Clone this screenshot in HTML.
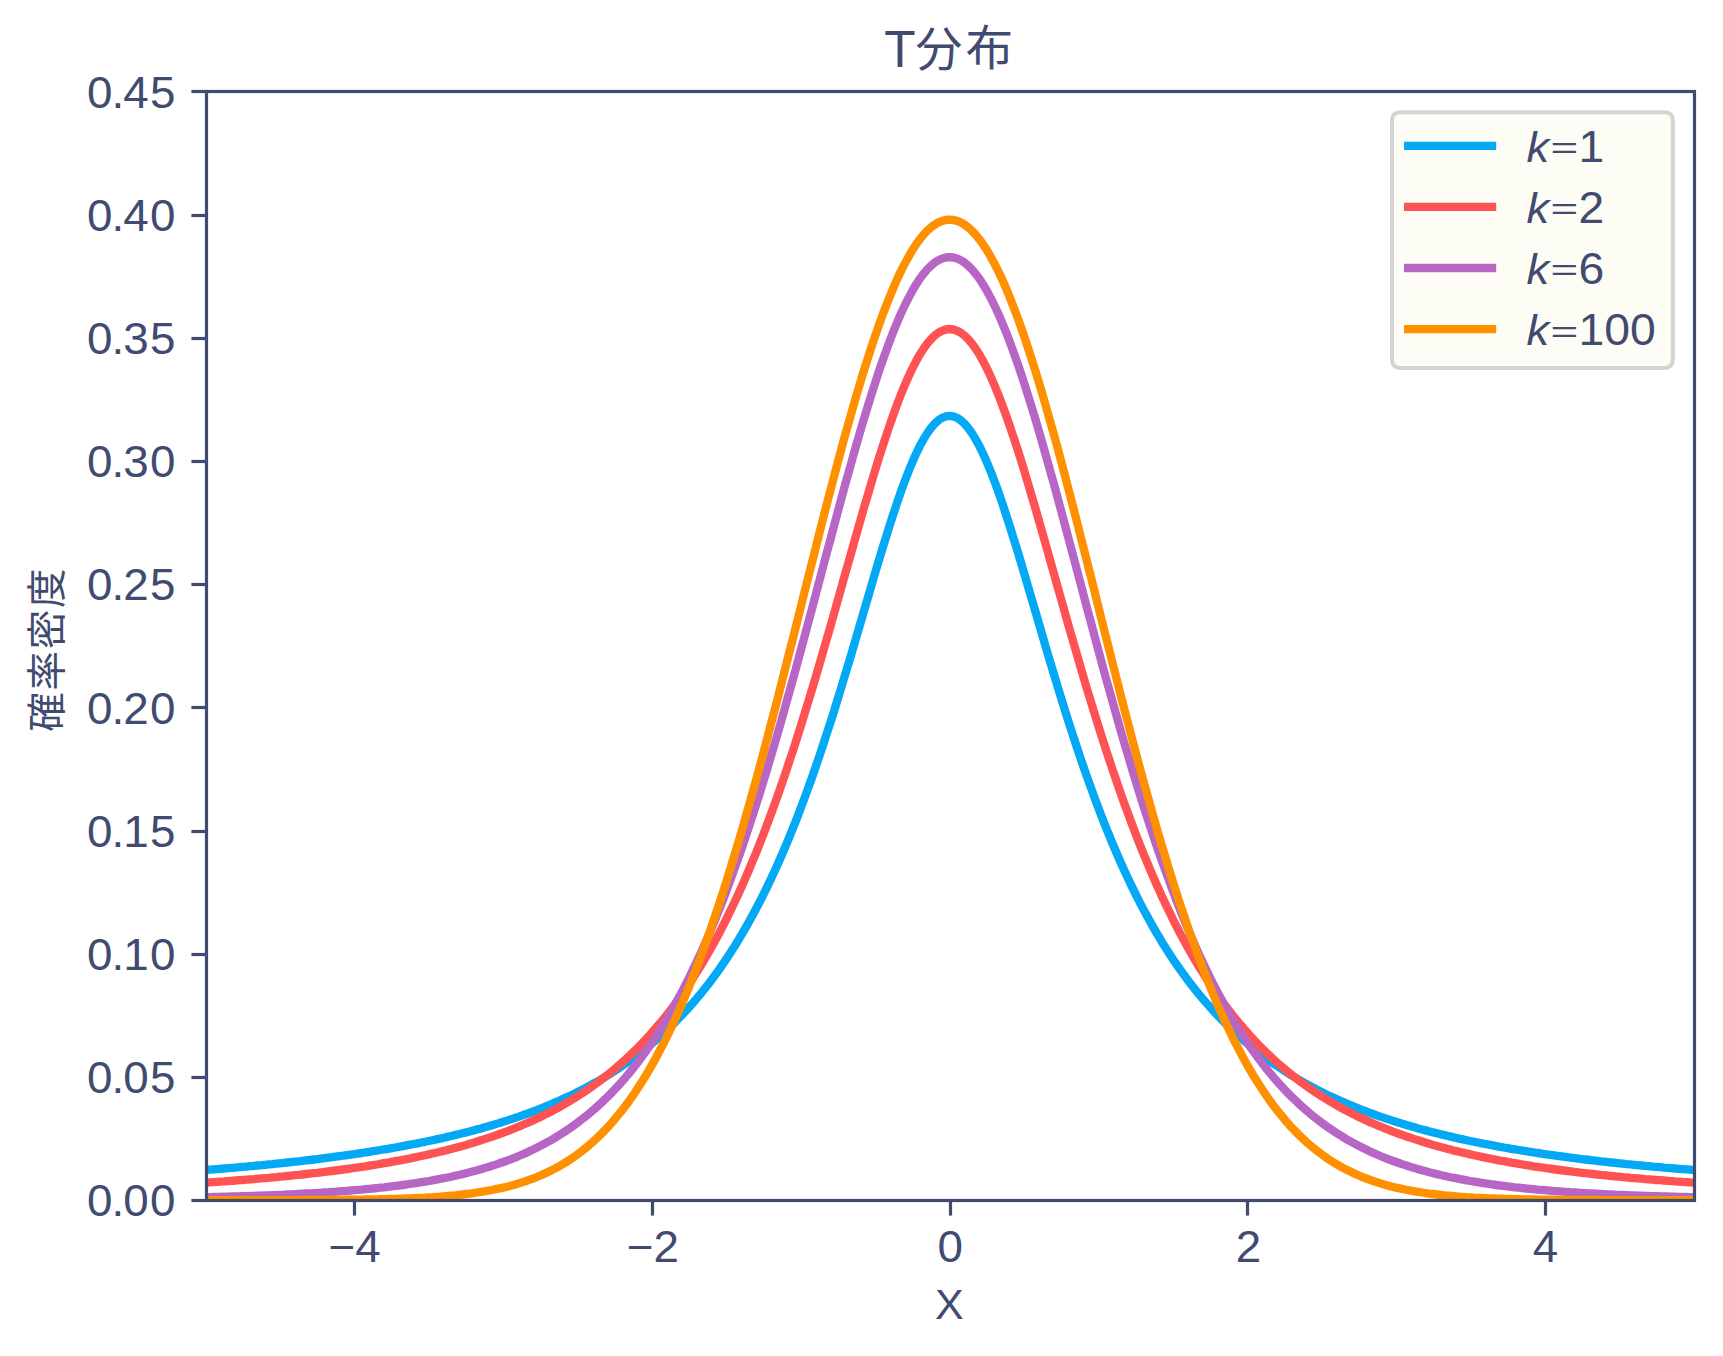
<!DOCTYPE html>
<html lang="ja"><head><meta charset="utf-8"><title>T分布</title>
<style>
html,body{margin:0;padding:0;background:#fff;}
body{width:1723px;height:1356px;overflow:hidden;}
svg{display:block;}
text{font-family:"Liberation Sans", "Noto Sans CJK JP", sans-serif;fill:#414b70;}
.it{font-style:italic;}
</style></head><body>
<svg width="1723" height="1356" viewBox="0 0 1723 1356">
<rect width="1723" height="1356" fill="#fff"/>
<defs><clipPath id="ax"><rect x="205.6" y="91.4" width="1488.0" height="1108.8"/></clipPath></defs>
<g clip-path="url(#ax)" fill="none" stroke-width="8.33" stroke-linejoin="round" stroke-linecap="square">
<path d="M205.6,1170.0 L209.3,1169.7 L213.0,1169.4 L216.8,1169.1 L220.5,1168.8 L224.2,1168.5 L227.9,1168.2 L231.6,1167.9 L235.4,1167.6 L239.1,1167.2 L242.8,1166.9 L246.5,1166.6 L250.2,1166.2 L254.0,1165.9 L257.7,1165.5 L261.4,1165.2 L265.1,1164.8 L268.8,1164.4 L272.6,1164.1 L276.3,1163.7 L280.0,1163.3 L283.7,1162.9 L287.4,1162.5 L291.2,1162.1 L294.9,1161.7 L298.6,1161.3 L302.3,1160.8 L306.0,1160.4 L309.8,1160.0 L313.5,1159.5 L317.2,1159.1 L320.9,1158.6 L324.6,1158.1 L328.4,1157.6 L332.1,1157.2 L335.8,1156.7 L339.5,1156.2 L343.2,1155.7 L347.0,1155.1 L350.7,1154.6 L354.4,1154.1 L358.1,1153.5 L361.8,1153.0 L365.6,1152.4 L369.3,1151.8 L373.0,1151.2 L376.7,1150.6 L380.4,1150.0 L384.2,1149.4 L387.9,1148.8 L391.6,1148.1 L395.3,1147.5 L399.0,1146.8 L402.8,1146.1 L406.5,1145.4 L410.2,1144.7 L413.9,1144.0 L417.6,1143.3 L421.4,1142.5 L425.1,1141.8 L428.8,1141.0 L432.5,1140.2 L436.2,1139.4 L440.0,1138.6 L443.7,1137.8 L447.4,1136.9 L451.1,1136.0 L454.8,1135.1 L458.6,1134.2 L462.3,1133.3 L466.0,1132.4 L469.7,1131.4 L473.4,1130.4 L477.2,1129.4 L480.9,1128.4 L484.6,1127.3 L488.3,1126.3 L492.0,1125.2 L495.8,1124.1 L499.5,1122.9 L503.2,1121.8 L506.9,1120.6 L510.6,1119.4 L514.4,1118.1 L518.1,1116.9 L521.8,1115.6 L525.5,1114.2 L529.2,1112.9 L533.0,1111.5 L536.7,1110.1 L540.4,1108.6 L544.1,1107.1 L547.8,1105.6 L551.6,1104.0 L555.3,1102.4 L559.0,1100.8 L562.7,1099.1 L566.4,1097.4 L570.2,1095.7 L573.9,1093.9 L577.6,1092.0 L581.3,1090.1 L585.0,1088.2 L588.8,1086.2 L592.5,1084.2 L596.2,1082.1 L599.9,1080.0 L603.6,1077.8 L607.4,1075.5 L611.1,1073.2 L614.8,1070.8 L618.5,1068.4 L622.2,1065.9 L626.0,1063.3 L629.7,1060.7 L633.4,1058.0 L637.1,1055.2 L640.8,1052.4 L644.6,1049.4 L648.3,1046.4 L652.0,1043.3 L655.7,1040.2 L659.4,1036.9 L663.2,1033.5 L666.9,1030.1 L670.6,1026.5 L674.3,1022.9 L678.0,1019.1 L681.8,1015.2 L685.5,1011.2 L689.2,1007.1 L692.9,1002.9 L696.6,998.6 L700.4,994.1 L704.1,989.5 L707.8,984.8 L711.5,979.9 L715.2,974.9 L719.0,969.7 L722.7,964.4 L726.4,958.9 L730.1,953.2 L733.8,947.4 L737.6,941.4 L741.3,935.2 L745.0,928.9 L748.7,922.3 L752.4,915.6 L756.2,908.6 L759.9,901.5 L763.6,894.1 L767.3,886.6 L771.0,878.8 L774.8,870.7 L778.5,862.5 L782.2,854.0 L785.9,845.3 L789.6,836.4 L793.4,827.2 L797.1,817.7 L800.8,808.0 L804.5,798.1 L808.2,787.9 L812.0,777.5 L815.7,766.9 L819.4,756.0 L823.1,744.9 L826.8,733.5 L830.6,722.0 L834.3,710.2 L838.0,698.2 L841.7,686.1 L845.4,673.8 L849.2,661.4 L852.9,648.8 L856.6,636.2 L860.3,623.5 L864.0,610.8 L867.8,598.0 L871.5,585.4 L875.2,572.7 L878.9,560.3 L882.6,548.0 L886.4,535.9 L890.1,524.1 L893.8,512.6 L897.5,501.5 L901.2,490.8 L905.0,480.6 L908.7,471.0 L912.4,462.0 L916.1,453.7 L919.8,446.1 L923.6,439.2 L927.3,433.1 L931.0,428.0 L934.7,423.6 L938.4,420.3 L942.2,417.8 L945.9,416.4 L949.6,415.9 L953.3,416.4 L957.0,417.8 L960.8,420.3 L964.5,423.6 L968.2,428.0 L971.9,433.1 L975.6,439.2 L979.4,446.1 L983.1,453.7 L986.8,462.0 L990.5,471.0 L994.2,480.6 L998.0,490.8 L1001.7,501.5 L1005.4,512.6 L1009.1,524.1 L1012.8,535.9 L1016.6,548.0 L1020.3,560.3 L1024.0,572.7 L1027.7,585.4 L1031.4,598.0 L1035.2,610.8 L1038.9,623.5 L1042.6,636.2 L1046.3,648.8 L1050.0,661.4 L1053.8,673.8 L1057.5,686.1 L1061.2,698.2 L1064.9,710.2 L1068.6,722.0 L1072.4,733.5 L1076.1,744.9 L1079.8,756.0 L1083.5,766.9 L1087.2,777.5 L1091.0,787.9 L1094.7,798.1 L1098.4,808.0 L1102.1,817.7 L1105.8,827.2 L1109.6,836.4 L1113.3,845.3 L1117.0,854.0 L1120.7,862.5 L1124.4,870.7 L1128.2,878.8 L1131.9,886.6 L1135.6,894.1 L1139.3,901.5 L1143.0,908.6 L1146.8,915.6 L1150.5,922.3 L1154.2,928.9 L1157.9,935.2 L1161.6,941.4 L1165.4,947.4 L1169.1,953.2 L1172.8,958.9 L1176.5,964.4 L1180.2,969.7 L1184.0,974.9 L1187.7,979.9 L1191.4,984.8 L1195.1,989.5 L1198.8,994.1 L1202.6,998.6 L1206.3,1002.9 L1210.0,1007.1 L1213.7,1011.2 L1217.4,1015.2 L1221.2,1019.1 L1224.9,1022.9 L1228.6,1026.5 L1232.3,1030.1 L1236.0,1033.5 L1239.8,1036.9 L1243.5,1040.2 L1247.2,1043.3 L1250.9,1046.4 L1254.6,1049.4 L1258.4,1052.4 L1262.1,1055.2 L1265.8,1058.0 L1269.5,1060.7 L1273.2,1063.3 L1277.0,1065.9 L1280.7,1068.4 L1284.4,1070.8 L1288.1,1073.2 L1291.8,1075.5 L1295.6,1077.8 L1299.3,1080.0 L1303.0,1082.1 L1306.7,1084.2 L1310.4,1086.2 L1314.2,1088.2 L1317.9,1090.1 L1321.6,1092.0 L1325.3,1093.9 L1329.0,1095.7 L1332.8,1097.4 L1336.5,1099.1 L1340.2,1100.8 L1343.9,1102.4 L1347.6,1104.0 L1351.4,1105.6 L1355.1,1107.1 L1358.8,1108.6 L1362.5,1110.1 L1366.2,1111.5 L1370.0,1112.9 L1373.7,1114.2 L1377.4,1115.6 L1381.1,1116.9 L1384.8,1118.1 L1388.6,1119.4 L1392.3,1120.6 L1396.0,1121.8 L1399.7,1122.9 L1403.4,1124.1 L1407.2,1125.2 L1410.9,1126.3 L1414.6,1127.3 L1418.3,1128.4 L1422.0,1129.4 L1425.8,1130.4 L1429.5,1131.4 L1433.2,1132.4 L1436.9,1133.3 L1440.6,1134.2 L1444.4,1135.1 L1448.1,1136.0 L1451.8,1136.9 L1455.5,1137.8 L1459.2,1138.6 L1463.0,1139.4 L1466.7,1140.2 L1470.4,1141.0 L1474.1,1141.8 L1477.8,1142.5 L1481.6,1143.3 L1485.3,1144.0 L1489.0,1144.7 L1492.7,1145.4 L1496.4,1146.1 L1500.2,1146.8 L1503.9,1147.5 L1507.6,1148.1 L1511.3,1148.8 L1515.0,1149.4 L1518.8,1150.0 L1522.5,1150.6 L1526.2,1151.2 L1529.9,1151.8 L1533.6,1152.4 L1537.4,1153.0 L1541.1,1153.5 L1544.8,1154.1 L1548.5,1154.6 L1552.2,1155.1 L1556.0,1155.7 L1559.7,1156.2 L1563.4,1156.7 L1567.1,1157.2 L1570.8,1157.6 L1574.6,1158.1 L1578.3,1158.6 L1582.0,1159.1 L1585.7,1159.5 L1589.4,1160.0 L1593.2,1160.4 L1596.9,1160.8 L1600.6,1161.3 L1604.3,1161.7 L1608.0,1162.1 L1611.8,1162.5 L1615.5,1162.9 L1619.2,1163.3 L1622.9,1163.7 L1626.6,1164.1 L1630.4,1164.4 L1634.1,1164.8 L1637.8,1165.2 L1641.5,1165.5 L1645.2,1165.9 L1649.0,1166.2 L1652.7,1166.6 L1656.4,1166.9 L1660.1,1167.2 L1663.8,1167.6 L1667.6,1167.9 L1671.3,1168.2 L1675.0,1168.5 L1678.7,1168.8 L1682.4,1169.1 L1686.2,1169.4 L1689.9,1169.7 L1693.6,1170.0" stroke="#03a9f4"/>
<path d="M205.6,1182.6 L209.3,1182.4 L213.0,1182.1 L216.8,1181.9 L220.5,1181.6 L224.2,1181.4 L227.9,1181.1 L231.6,1180.8 L235.4,1180.5 L239.1,1180.2 L242.8,1180.0 L246.5,1179.7 L250.2,1179.4 L254.0,1179.1 L257.7,1178.7 L261.4,1178.4 L265.1,1178.1 L268.8,1177.8 L272.6,1177.4 L276.3,1177.1 L280.0,1176.7 L283.7,1176.4 L287.4,1176.0 L291.2,1175.6 L294.9,1175.2 L298.6,1174.9 L302.3,1174.5 L306.0,1174.0 L309.8,1173.6 L313.5,1173.2 L317.2,1172.8 L320.9,1172.3 L324.6,1171.9 L328.4,1171.4 L332.1,1171.0 L335.8,1170.5 L339.5,1170.0 L343.2,1169.5 L347.0,1169.0 L350.7,1168.5 L354.4,1167.9 L358.1,1167.4 L361.8,1166.8 L365.6,1166.3 L369.3,1165.7 L373.0,1165.1 L376.7,1164.5 L380.4,1163.9 L384.2,1163.2 L387.9,1162.6 L391.6,1161.9 L395.3,1161.2 L399.0,1160.6 L402.8,1159.8 L406.5,1159.1 L410.2,1158.4 L413.9,1157.6 L417.6,1156.8 L421.4,1156.0 L425.1,1155.2 L428.8,1154.4 L432.5,1153.5 L436.2,1152.7 L440.0,1151.8 L443.7,1150.9 L447.4,1149.9 L451.1,1149.0 L454.8,1148.0 L458.6,1147.0 L462.3,1145.9 L466.0,1144.9 L469.7,1143.8 L473.4,1142.7 L477.2,1141.5 L480.9,1140.3 L484.6,1139.1 L488.3,1137.9 L492.0,1136.7 L495.8,1135.4 L499.5,1134.0 L503.2,1132.7 L506.9,1131.3 L510.6,1129.8 L514.4,1128.4 L518.1,1126.8 L521.8,1125.3 L525.5,1123.7 L529.2,1122.1 L533.0,1120.4 L536.7,1118.6 L540.4,1116.9 L544.1,1115.1 L547.8,1113.2 L551.6,1111.3 L555.3,1109.3 L559.0,1107.3 L562.7,1105.2 L566.4,1103.0 L570.2,1100.8 L573.9,1098.5 L577.6,1096.2 L581.3,1093.8 L585.0,1091.4 L588.8,1088.8 L592.5,1086.2 L596.2,1083.5 L599.9,1080.8 L603.6,1077.9 L607.4,1075.0 L611.1,1072.0 L614.8,1068.9 L618.5,1065.7 L622.2,1062.5 L626.0,1059.1 L629.7,1055.6 L633.4,1052.0 L637.1,1048.4 L640.8,1044.6 L644.6,1040.7 L648.3,1036.7 L652.0,1032.5 L655.7,1028.3 L659.4,1023.9 L663.2,1019.4 L666.9,1014.8 L670.6,1010.0 L674.3,1005.1 L678.0,1000.0 L681.8,994.8 L685.5,989.4 L689.2,983.9 L692.9,978.2 L696.6,972.3 L700.4,966.3 L704.1,960.1 L707.8,953.7 L711.5,947.2 L715.2,940.4 L719.0,933.5 L722.7,926.3 L726.4,919.0 L730.1,911.4 L733.8,903.7 L737.6,895.7 L741.3,887.5 L745.0,879.1 L748.7,870.5 L752.4,861.7 L756.2,852.6 L759.9,843.3 L763.6,833.8 L767.3,824.0 L771.0,814.0 L774.8,803.8 L778.5,793.3 L782.2,782.7 L785.9,771.8 L789.6,760.6 L793.4,749.3 L797.1,737.8 L800.8,726.0 L804.5,714.1 L808.2,701.9 L812.0,689.6 L815.7,677.1 L819.4,664.5 L823.1,651.7 L826.8,638.8 L830.6,625.8 L834.3,612.7 L838.0,599.5 L841.7,586.3 L845.4,573.1 L849.2,559.9 L852.9,546.7 L856.6,533.6 L860.3,520.6 L864.0,507.7 L867.8,495.0 L871.5,482.4 L875.2,470.1 L878.9,458.1 L882.6,446.4 L886.4,435.0 L890.1,424.0 L893.8,413.5 L897.5,403.4 L901.2,393.8 L905.0,384.7 L908.7,376.2 L912.4,368.3 L916.1,361.1 L919.8,354.5 L923.6,348.7 L927.3,343.5 L931.0,339.2 L934.7,335.5 L938.4,332.7 L942.2,330.7 L945.9,329.5 L949.6,329.0 L953.3,329.5 L957.0,330.7 L960.8,332.7 L964.5,335.5 L968.2,339.2 L971.9,343.5 L975.6,348.7 L979.4,354.5 L983.1,361.1 L986.8,368.3 L990.5,376.2 L994.2,384.7 L998.0,393.8 L1001.7,403.4 L1005.4,413.5 L1009.1,424.0 L1012.8,435.0 L1016.6,446.4 L1020.3,458.1 L1024.0,470.1 L1027.7,482.4 L1031.4,495.0 L1035.2,507.7 L1038.9,520.6 L1042.6,533.6 L1046.3,546.7 L1050.0,559.9 L1053.8,573.1 L1057.5,586.3 L1061.2,599.5 L1064.9,612.7 L1068.6,625.8 L1072.4,638.8 L1076.1,651.7 L1079.8,664.5 L1083.5,677.1 L1087.2,689.6 L1091.0,701.9 L1094.7,714.1 L1098.4,726.0 L1102.1,737.8 L1105.8,749.3 L1109.6,760.6 L1113.3,771.8 L1117.0,782.7 L1120.7,793.3 L1124.4,803.8 L1128.2,814.0 L1131.9,824.0 L1135.6,833.8 L1139.3,843.3 L1143.0,852.6 L1146.8,861.7 L1150.5,870.5 L1154.2,879.1 L1157.9,887.5 L1161.6,895.7 L1165.4,903.7 L1169.1,911.4 L1172.8,919.0 L1176.5,926.3 L1180.2,933.5 L1184.0,940.4 L1187.7,947.2 L1191.4,953.7 L1195.1,960.1 L1198.8,966.3 L1202.6,972.3 L1206.3,978.2 L1210.0,983.9 L1213.7,989.4 L1217.4,994.8 L1221.2,1000.0 L1224.9,1005.1 L1228.6,1010.0 L1232.3,1014.8 L1236.0,1019.4 L1239.8,1023.9 L1243.5,1028.3 L1247.2,1032.5 L1250.9,1036.7 L1254.6,1040.7 L1258.4,1044.6 L1262.1,1048.4 L1265.8,1052.0 L1269.5,1055.6 L1273.2,1059.1 L1277.0,1062.5 L1280.7,1065.7 L1284.4,1068.9 L1288.1,1072.0 L1291.8,1075.0 L1295.6,1077.9 L1299.3,1080.8 L1303.0,1083.5 L1306.7,1086.2 L1310.4,1088.8 L1314.2,1091.4 L1317.9,1093.8 L1321.6,1096.2 L1325.3,1098.5 L1329.0,1100.8 L1332.8,1103.0 L1336.5,1105.2 L1340.2,1107.3 L1343.9,1109.3 L1347.6,1111.3 L1351.4,1113.2 L1355.1,1115.1 L1358.8,1116.9 L1362.5,1118.6 L1366.2,1120.4 L1370.0,1122.1 L1373.7,1123.7 L1377.4,1125.3 L1381.1,1126.8 L1384.8,1128.4 L1388.6,1129.8 L1392.3,1131.3 L1396.0,1132.7 L1399.7,1134.0 L1403.4,1135.4 L1407.2,1136.7 L1410.9,1137.9 L1414.6,1139.1 L1418.3,1140.3 L1422.0,1141.5 L1425.8,1142.7 L1429.5,1143.8 L1433.2,1144.9 L1436.9,1145.9 L1440.6,1147.0 L1444.4,1148.0 L1448.1,1149.0 L1451.8,1149.9 L1455.5,1150.9 L1459.2,1151.8 L1463.0,1152.7 L1466.7,1153.5 L1470.4,1154.4 L1474.1,1155.2 L1477.8,1156.0 L1481.6,1156.8 L1485.3,1157.6 L1489.0,1158.4 L1492.7,1159.1 L1496.4,1159.8 L1500.2,1160.6 L1503.9,1161.2 L1507.6,1161.9 L1511.3,1162.6 L1515.0,1163.2 L1518.8,1163.9 L1522.5,1164.5 L1526.2,1165.1 L1529.9,1165.7 L1533.6,1166.3 L1537.4,1166.8 L1541.1,1167.4 L1544.8,1167.9 L1548.5,1168.5 L1552.2,1169.0 L1556.0,1169.5 L1559.7,1170.0 L1563.4,1170.5 L1567.1,1171.0 L1570.8,1171.4 L1574.6,1171.9 L1578.3,1172.3 L1582.0,1172.8 L1585.7,1173.2 L1589.4,1173.6 L1593.2,1174.0 L1596.9,1174.5 L1600.6,1174.9 L1604.3,1175.2 L1608.0,1175.6 L1611.8,1176.0 L1615.5,1176.4 L1619.2,1176.7 L1622.9,1177.1 L1626.6,1177.4 L1630.4,1177.8 L1634.1,1178.1 L1637.8,1178.4 L1641.5,1178.7 L1645.2,1179.1 L1649.0,1179.4 L1652.7,1179.7 L1656.4,1180.0 L1660.1,1180.2 L1663.8,1180.5 L1667.6,1180.8 L1671.3,1181.1 L1675.0,1181.4 L1678.7,1181.6 L1682.4,1181.9 L1686.2,1182.1 L1689.9,1182.4 L1693.6,1182.6" stroke="#ff5252"/>
<path d="M205.6,1197.2 L209.3,1197.1 L213.0,1197.0 L216.8,1196.9 L220.5,1196.8 L224.2,1196.7 L227.9,1196.6 L231.6,1196.5 L235.4,1196.4 L239.1,1196.3 L242.8,1196.2 L246.5,1196.1 L250.2,1196.0 L254.0,1195.8 L257.7,1195.7 L261.4,1195.6 L265.1,1195.4 L268.8,1195.3 L272.6,1195.1 L276.3,1195.0 L280.0,1194.8 L283.7,1194.7 L287.4,1194.5 L291.2,1194.3 L294.9,1194.1 L298.6,1193.9 L302.3,1193.7 L306.0,1193.5 L309.8,1193.3 L313.5,1193.1 L317.2,1192.9 L320.9,1192.7 L324.6,1192.4 L328.4,1192.2 L332.1,1191.9 L335.8,1191.7 L339.5,1191.4 L343.2,1191.1 L347.0,1190.8 L350.7,1190.5 L354.4,1190.2 L358.1,1189.9 L361.8,1189.6 L365.6,1189.2 L369.3,1188.8 L373.0,1188.5 L376.7,1188.1 L380.4,1187.7 L384.2,1187.3 L387.9,1186.8 L391.6,1186.4 L395.3,1185.9 L399.0,1185.5 L402.8,1185.0 L406.5,1184.5 L410.2,1183.9 L413.9,1183.4 L417.6,1182.8 L421.4,1182.2 L425.1,1181.6 L428.8,1181.0 L432.5,1180.3 L436.2,1179.6 L440.0,1178.9 L443.7,1178.2 L447.4,1177.5 L451.1,1176.7 L454.8,1175.8 L458.6,1175.0 L462.3,1174.1 L466.0,1173.2 L469.7,1172.3 L473.4,1171.3 L477.2,1170.3 L480.9,1169.2 L484.6,1168.1 L488.3,1167.0 L492.0,1165.8 L495.8,1164.6 L499.5,1163.3 L503.2,1162.0 L506.9,1160.7 L510.6,1159.3 L514.4,1157.8 L518.1,1156.3 L521.8,1154.7 L525.5,1153.1 L529.2,1151.4 L533.0,1149.6 L536.7,1147.8 L540.4,1145.9 L544.1,1143.9 L547.8,1141.9 L551.6,1139.8 L555.3,1137.6 L559.0,1135.3 L562.7,1133.0 L566.4,1130.5 L570.2,1128.0 L573.9,1125.4 L577.6,1122.6 L581.3,1119.8 L585.0,1116.9 L588.8,1113.9 L592.5,1110.7 L596.2,1107.5 L599.9,1104.1 L603.6,1100.6 L607.4,1097.0 L611.1,1093.3 L614.8,1089.4 L618.5,1085.4 L622.2,1081.2 L626.0,1076.9 L629.7,1072.5 L633.4,1067.9 L637.1,1063.1 L640.8,1058.2 L644.6,1053.1 L648.3,1047.8 L652.0,1042.4 L655.7,1036.8 L659.4,1031.0 L663.2,1025.0 L666.9,1018.8 L670.6,1012.5 L674.3,1005.9 L678.0,999.1 L681.8,992.1 L685.5,984.9 L689.2,977.5 L692.9,969.9 L696.6,962.0 L700.4,953.9 L704.1,945.6 L707.8,937.1 L711.5,928.3 L715.2,919.3 L719.0,910.0 L722.7,900.6 L726.4,890.8 L730.1,880.9 L733.8,870.7 L737.6,860.2 L741.3,849.6 L745.0,838.6 L748.7,827.5 L752.4,816.1 L756.2,804.5 L759.9,792.7 L763.6,780.7 L767.3,768.5 L771.0,756.0 L774.8,743.4 L778.5,730.6 L782.2,717.6 L785.9,704.4 L789.6,691.1 L793.4,677.7 L797.1,664.1 L800.8,650.4 L804.5,636.6 L808.2,622.7 L812.0,608.8 L815.7,594.8 L819.4,580.8 L823.1,566.8 L826.8,552.8 L830.6,538.8 L834.3,524.9 L838.0,511.0 L841.7,497.3 L845.4,483.7 L849.2,470.3 L852.9,457.0 L856.6,444.0 L860.3,431.1 L864.0,418.6 L867.8,406.3 L871.5,394.3 L875.2,382.7 L878.9,371.4 L882.6,360.6 L886.4,350.1 L890.1,340.1 L893.8,330.6 L897.5,321.6 L901.2,313.0 L905.0,305.0 L908.7,297.6 L912.4,290.7 L916.1,284.5 L919.8,278.8 L923.6,273.8 L927.3,269.4 L931.0,265.7 L934.7,262.6 L938.4,260.2 L942.2,258.5 L945.9,257.5 L949.6,257.1 L953.3,257.5 L957.0,258.5 L960.8,260.2 L964.5,262.6 L968.2,265.7 L971.9,269.4 L975.6,273.8 L979.4,278.8 L983.1,284.5 L986.8,290.7 L990.5,297.6 L994.2,305.0 L998.0,313.0 L1001.7,321.6 L1005.4,330.6 L1009.1,340.1 L1012.8,350.1 L1016.6,360.6 L1020.3,371.4 L1024.0,382.7 L1027.7,394.3 L1031.4,406.3 L1035.2,418.6 L1038.9,431.1 L1042.6,444.0 L1046.3,457.0 L1050.0,470.3 L1053.8,483.7 L1057.5,497.3 L1061.2,511.0 L1064.9,524.9 L1068.6,538.8 L1072.4,552.8 L1076.1,566.8 L1079.8,580.8 L1083.5,594.8 L1087.2,608.8 L1091.0,622.7 L1094.7,636.6 L1098.4,650.4 L1102.1,664.1 L1105.8,677.7 L1109.6,691.1 L1113.3,704.4 L1117.0,717.6 L1120.7,730.6 L1124.4,743.4 L1128.2,756.0 L1131.9,768.5 L1135.6,780.7 L1139.3,792.7 L1143.0,804.5 L1146.8,816.1 L1150.5,827.5 L1154.2,838.6 L1157.9,849.6 L1161.6,860.2 L1165.4,870.7 L1169.1,880.9 L1172.8,890.8 L1176.5,900.6 L1180.2,910.0 L1184.0,919.3 L1187.7,928.3 L1191.4,937.1 L1195.1,945.6 L1198.8,953.9 L1202.6,962.0 L1206.3,969.9 L1210.0,977.5 L1213.7,984.9 L1217.4,992.1 L1221.2,999.1 L1224.9,1005.9 L1228.6,1012.5 L1232.3,1018.8 L1236.0,1025.0 L1239.8,1031.0 L1243.5,1036.8 L1247.2,1042.4 L1250.9,1047.8 L1254.6,1053.1 L1258.4,1058.2 L1262.1,1063.1 L1265.8,1067.9 L1269.5,1072.5 L1273.2,1076.9 L1277.0,1081.2 L1280.7,1085.4 L1284.4,1089.4 L1288.1,1093.3 L1291.8,1097.0 L1295.6,1100.6 L1299.3,1104.1 L1303.0,1107.5 L1306.7,1110.7 L1310.4,1113.9 L1314.2,1116.9 L1317.9,1119.8 L1321.6,1122.6 L1325.3,1125.4 L1329.0,1128.0 L1332.8,1130.5 L1336.5,1133.0 L1340.2,1135.3 L1343.9,1137.6 L1347.6,1139.8 L1351.4,1141.9 L1355.1,1143.9 L1358.8,1145.9 L1362.5,1147.8 L1366.2,1149.6 L1370.0,1151.4 L1373.7,1153.1 L1377.4,1154.7 L1381.1,1156.3 L1384.8,1157.8 L1388.6,1159.3 L1392.3,1160.7 L1396.0,1162.0 L1399.7,1163.3 L1403.4,1164.6 L1407.2,1165.8 L1410.9,1167.0 L1414.6,1168.1 L1418.3,1169.2 L1422.0,1170.3 L1425.8,1171.3 L1429.5,1172.3 L1433.2,1173.2 L1436.9,1174.1 L1440.6,1175.0 L1444.4,1175.8 L1448.1,1176.7 L1451.8,1177.5 L1455.5,1178.2 L1459.2,1178.9 L1463.0,1179.6 L1466.7,1180.3 L1470.4,1181.0 L1474.1,1181.6 L1477.8,1182.2 L1481.6,1182.8 L1485.3,1183.4 L1489.0,1183.9 L1492.7,1184.5 L1496.4,1185.0 L1500.2,1185.5 L1503.9,1185.9 L1507.6,1186.4 L1511.3,1186.8 L1515.0,1187.3 L1518.8,1187.7 L1522.5,1188.1 L1526.2,1188.5 L1529.9,1188.8 L1533.6,1189.2 L1537.4,1189.6 L1541.1,1189.9 L1544.8,1190.2 L1548.5,1190.5 L1552.2,1190.8 L1556.0,1191.1 L1559.7,1191.4 L1563.4,1191.7 L1567.1,1191.9 L1570.8,1192.2 L1574.6,1192.4 L1578.3,1192.7 L1582.0,1192.9 L1585.7,1193.1 L1589.4,1193.3 L1593.2,1193.5 L1596.9,1193.7 L1600.6,1193.9 L1604.3,1194.1 L1608.0,1194.3 L1611.8,1194.5 L1615.5,1194.7 L1619.2,1194.8 L1622.9,1195.0 L1626.6,1195.1 L1630.4,1195.3 L1634.1,1195.4 L1637.8,1195.6 L1641.5,1195.7 L1645.2,1195.8 L1649.0,1196.0 L1652.7,1196.1 L1656.4,1196.2 L1660.1,1196.3 L1663.8,1196.4 L1667.6,1196.5 L1671.3,1196.6 L1675.0,1196.7 L1678.7,1196.8 L1682.4,1196.9 L1686.2,1197.0 L1689.9,1197.1 L1693.6,1197.2" stroke="#b866c6"/>
<path d="M205.6,1200.2 L209.3,1200.2 L213.0,1200.2 L216.8,1200.2 L220.5,1200.2 L224.2,1200.2 L227.9,1200.2 L231.6,1200.2 L235.4,1200.2 L239.1,1200.2 L242.8,1200.2 L246.5,1200.2 L250.2,1200.2 L254.0,1200.2 L257.7,1200.2 L261.4,1200.1 L265.1,1200.1 L268.8,1200.1 L272.6,1200.1 L276.3,1200.1 L280.0,1200.1 L283.7,1200.1 L287.4,1200.1 L291.2,1200.1 L294.9,1200.1 L298.6,1200.1 L302.3,1200.0 L306.0,1200.0 L309.8,1200.0 L313.5,1200.0 L317.2,1200.0 L320.9,1200.0 L324.6,1199.9 L328.4,1199.9 L332.1,1199.9 L335.8,1199.8 L339.5,1199.8 L343.2,1199.8 L347.0,1199.7 L350.7,1199.7 L354.4,1199.7 L358.1,1199.6 L361.8,1199.6 L365.6,1199.5 L369.3,1199.4 L373.0,1199.4 L376.7,1199.3 L380.4,1199.2 L384.2,1199.1 L387.9,1199.0 L391.6,1198.9 L395.3,1198.8 L399.0,1198.7 L402.8,1198.6 L406.5,1198.4 L410.2,1198.3 L413.9,1198.1 L417.6,1197.9 L421.4,1197.8 L425.1,1197.6 L428.8,1197.3 L432.5,1197.1 L436.2,1196.8 L440.0,1196.6 L443.7,1196.3 L447.4,1196.0 L451.1,1195.6 L454.8,1195.3 L458.6,1194.9 L462.3,1194.5 L466.0,1194.0 L469.7,1193.6 L473.4,1193.1 L477.2,1192.5 L480.9,1191.9 L484.6,1191.3 L488.3,1190.7 L492.0,1190.0 L495.8,1189.2 L499.5,1188.4 L503.2,1187.6 L506.9,1186.7 L510.6,1185.7 L514.4,1184.7 L518.1,1183.6 L521.8,1182.4 L525.5,1181.2 L529.2,1179.9 L533.0,1178.5 L536.7,1177.1 L540.4,1175.5 L544.1,1173.9 L547.8,1172.1 L551.6,1170.3 L555.3,1168.4 L559.0,1166.3 L562.7,1164.2 L566.4,1161.9 L570.2,1159.5 L573.9,1157.0 L577.6,1154.3 L581.3,1151.5 L585.0,1148.6 L588.8,1145.5 L592.5,1142.2 L596.2,1138.8 L599.9,1135.3 L603.6,1131.5 L607.4,1127.6 L611.1,1123.5 L614.8,1119.2 L618.5,1114.7 L622.2,1110.1 L626.0,1105.2 L629.7,1100.1 L633.4,1094.8 L637.1,1089.3 L640.8,1083.5 L644.6,1077.6 L648.3,1071.4 L652.0,1064.9 L655.7,1058.2 L659.4,1051.3 L663.2,1044.1 L666.9,1036.6 L670.6,1028.9 L674.3,1021.0 L678.0,1012.7 L681.8,1004.3 L685.5,995.5 L689.2,986.5 L692.9,977.2 L696.6,967.6 L700.4,957.8 L704.1,947.6 L707.8,937.3 L711.5,926.6 L715.2,915.7 L719.0,904.5 L722.7,893.1 L726.4,881.4 L730.1,869.5 L733.8,857.3 L737.6,844.9 L741.3,832.3 L745.0,819.4 L748.7,806.3 L752.4,793.0 L756.2,779.6 L759.9,765.9 L763.6,752.0 L767.3,738.0 L771.0,723.9 L774.8,709.6 L778.5,695.2 L782.2,680.6 L785.9,666.0 L789.6,651.3 L793.4,636.6 L797.1,621.8 L800.8,607.0 L804.5,592.1 L808.2,577.3 L812.0,562.5 L815.7,547.8 L819.4,533.1 L823.1,518.5 L826.8,504.1 L830.6,489.7 L834.3,475.5 L838.0,461.5 L841.7,447.7 L845.4,434.1 L849.2,420.8 L852.9,407.7 L856.6,394.9 L860.3,382.4 L864.0,370.2 L867.8,358.4 L871.5,346.9 L875.2,335.8 L878.9,325.1 L882.6,314.9 L886.4,305.1 L890.1,295.7 L893.8,286.8 L897.5,278.4 L901.2,270.6 L905.0,263.2 L908.7,256.4 L912.4,250.1 L916.1,244.4 L919.8,239.3 L923.6,234.7 L927.3,230.7 L931.0,227.4 L934.7,224.6 L938.4,222.4 L942.2,220.9 L945.9,220.0 L949.6,219.7 L953.3,220.0 L957.0,220.9 L960.8,222.4 L964.5,224.6 L968.2,227.4 L971.9,230.7 L975.6,234.7 L979.4,239.3 L983.1,244.4 L986.8,250.1 L990.5,256.4 L994.2,263.2 L998.0,270.6 L1001.7,278.4 L1005.4,286.8 L1009.1,295.7 L1012.8,305.1 L1016.6,314.9 L1020.3,325.1 L1024.0,335.8 L1027.7,346.9 L1031.4,358.4 L1035.2,370.2 L1038.9,382.4 L1042.6,394.9 L1046.3,407.7 L1050.0,420.8 L1053.8,434.1 L1057.5,447.7 L1061.2,461.5 L1064.9,475.5 L1068.6,489.7 L1072.4,504.1 L1076.1,518.5 L1079.8,533.1 L1083.5,547.8 L1087.2,562.5 L1091.0,577.3 L1094.7,592.1 L1098.4,607.0 L1102.1,621.8 L1105.8,636.6 L1109.6,651.3 L1113.3,666.0 L1117.0,680.6 L1120.7,695.2 L1124.4,709.6 L1128.2,723.9 L1131.9,738.0 L1135.6,752.0 L1139.3,765.9 L1143.0,779.6 L1146.8,793.0 L1150.5,806.3 L1154.2,819.4 L1157.9,832.3 L1161.6,844.9 L1165.4,857.3 L1169.1,869.5 L1172.8,881.4 L1176.5,893.1 L1180.2,904.5 L1184.0,915.7 L1187.7,926.6 L1191.4,937.3 L1195.1,947.6 L1198.8,957.8 L1202.6,967.6 L1206.3,977.2 L1210.0,986.5 L1213.7,995.5 L1217.4,1004.3 L1221.2,1012.7 L1224.9,1021.0 L1228.6,1028.9 L1232.3,1036.6 L1236.0,1044.1 L1239.8,1051.3 L1243.5,1058.2 L1247.2,1064.9 L1250.9,1071.4 L1254.6,1077.6 L1258.4,1083.5 L1262.1,1089.3 L1265.8,1094.8 L1269.5,1100.1 L1273.2,1105.2 L1277.0,1110.1 L1280.7,1114.7 L1284.4,1119.2 L1288.1,1123.5 L1291.8,1127.6 L1295.6,1131.5 L1299.3,1135.3 L1303.0,1138.8 L1306.7,1142.2 L1310.4,1145.5 L1314.2,1148.6 L1317.9,1151.5 L1321.6,1154.3 L1325.3,1157.0 L1329.0,1159.5 L1332.8,1161.9 L1336.5,1164.2 L1340.2,1166.3 L1343.9,1168.4 L1347.6,1170.3 L1351.4,1172.1 L1355.1,1173.9 L1358.8,1175.5 L1362.5,1177.1 L1366.2,1178.5 L1370.0,1179.9 L1373.7,1181.2 L1377.4,1182.4 L1381.1,1183.6 L1384.8,1184.7 L1388.6,1185.7 L1392.3,1186.7 L1396.0,1187.6 L1399.7,1188.4 L1403.4,1189.2 L1407.2,1190.0 L1410.9,1190.7 L1414.6,1191.3 L1418.3,1191.9 L1422.0,1192.5 L1425.8,1193.1 L1429.5,1193.6 L1433.2,1194.0 L1436.9,1194.5 L1440.6,1194.9 L1444.4,1195.3 L1448.1,1195.6 L1451.8,1196.0 L1455.5,1196.3 L1459.2,1196.6 L1463.0,1196.8 L1466.7,1197.1 L1470.4,1197.3 L1474.1,1197.6 L1477.8,1197.8 L1481.6,1197.9 L1485.3,1198.1 L1489.0,1198.3 L1492.7,1198.4 L1496.4,1198.6 L1500.2,1198.7 L1503.9,1198.8 L1507.6,1198.9 L1511.3,1199.0 L1515.0,1199.1 L1518.8,1199.2 L1522.5,1199.3 L1526.2,1199.4 L1529.9,1199.4 L1533.6,1199.5 L1537.4,1199.6 L1541.1,1199.6 L1544.8,1199.7 L1548.5,1199.7 L1552.2,1199.7 L1556.0,1199.8 L1559.7,1199.8 L1563.4,1199.8 L1567.1,1199.9 L1570.8,1199.9 L1574.6,1199.9 L1578.3,1200.0 L1582.0,1200.0 L1585.7,1200.0 L1589.4,1200.0 L1593.2,1200.0 L1596.9,1200.0 L1600.6,1200.1 L1604.3,1200.1 L1608.0,1200.1 L1611.8,1200.1 L1615.5,1200.1 L1619.2,1200.1 L1622.9,1200.1 L1626.6,1200.1 L1630.4,1200.1 L1634.1,1200.1 L1637.8,1200.1 L1641.5,1200.2 L1645.2,1200.2 L1649.0,1200.2 L1652.7,1200.2 L1656.4,1200.2 L1660.1,1200.2 L1663.8,1200.2 L1667.6,1200.2 L1671.3,1200.2 L1675.0,1200.2 L1678.7,1200.2 L1682.4,1200.2 L1686.2,1200.2 L1689.9,1200.2 L1693.6,1200.2" stroke="#ff9100"/>
</g>
<g stroke="#414b70" stroke-width="3.2" fill="none">
<line x1="191.42" y1="1200.50" x2="206.5" y2="1200.50"/>
<line x1="191.42" y1="1077.50" x2="206.5" y2="1077.50"/>
<line x1="191.42" y1="954.50" x2="206.5" y2="954.50"/>
<line x1="191.42" y1="831.50" x2="206.5" y2="831.50"/>
<line x1="191.42" y1="707.50" x2="206.5" y2="707.50"/>
<line x1="191.42" y1="584.50" x2="206.5" y2="584.50"/>
<line x1="191.42" y1="461.50" x2="206.5" y2="461.50"/>
<line x1="191.42" y1="338.50" x2="206.5" y2="338.50"/>
<line x1="191.42" y1="215.50" x2="206.5" y2="215.50"/>
<line x1="191.42" y1="91.50" x2="206.5" y2="91.50"/>
<line x1="354.50" y1="1200.5" x2="354.50" y2="1215.58"/>
<line x1="652.50" y1="1200.5" x2="652.50" y2="1215.58"/>
<line x1="950.50" y1="1200.5" x2="950.50" y2="1215.58"/>
<line x1="1247.50" y1="1200.5" x2="1247.50" y2="1215.58"/>
<line x1="1545.50" y1="1200.5" x2="1545.50" y2="1215.58"/>
<rect x="206.5" y="91.5" width="1488.0" height="1109.0" stroke-linejoin="miter"/>
</g>
<text transform="translate(175.30 1216.05) scale(1.05 1)" font-size="43.6" text-anchor="end" letter-spacing="-0.2" dx="0 -0.86 -0.57 1.43">0.00</text>
<text transform="translate(175.30 1093.05) scale(1.05 1)" font-size="43.6" text-anchor="end" letter-spacing="-0.2" dx="0 -0.86 -0.57 1.43">0.05</text>
<text transform="translate(175.30 970.05) scale(1.05 1)" font-size="43.6" text-anchor="end" letter-spacing="-0.2" dx="0 -0.86 -0.57 1.43">0.10</text>
<text transform="translate(175.30 847.05) scale(1.05 1)" font-size="43.6" text-anchor="end" letter-spacing="-0.2" dx="0 -0.86 -0.57 1.43">0.15</text>
<text transform="translate(175.30 724.05) scale(1.05 1)" font-size="43.6" text-anchor="end" letter-spacing="-0.2" dx="0 -0.86 -0.57 1.43">0.20</text>
<text transform="translate(175.30 600.05) scale(1.05 1)" font-size="43.6" text-anchor="end" letter-spacing="-0.2" dx="0 -0.86 -0.57 1.43">0.25</text>
<text transform="translate(175.30 477.05) scale(1.05 1)" font-size="43.6" text-anchor="end" letter-spacing="-0.2" dx="0 -0.86 -0.57 1.43">0.30</text>
<text transform="translate(175.30 354.05) scale(1.05 1)" font-size="43.6" text-anchor="end" letter-spacing="-0.2" dx="0 -0.86 -0.57 1.43">0.35</text>
<text transform="translate(175.30 231.05) scale(1.05 1)" font-size="43.6" text-anchor="end" letter-spacing="-0.2" dx="0 -0.86 -0.57 1.43">0.40</text>
<text transform="translate(175.30 108.05) scale(1.05 1)" font-size="43.6" text-anchor="end" letter-spacing="-0.2" dx="0 -0.86 -0.57 1.43">0.45</text>
<text transform="translate(354.70 1261.50) scale(1.05 1)" font-size="43.6" text-anchor="middle"><tspan dy="0.9">−</tspan><tspan dy="-0.9">4</tspan></text>
<text transform="translate(652.90 1261.50) scale(1.05 1)" font-size="43.6" text-anchor="middle"><tspan dy="0.9">−</tspan><tspan dy="-0.9">2</tspan></text>
<text transform="translate(950.20 1261.50) scale(1.05 1)" font-size="43.6" text-anchor="middle">0</text>
<text transform="translate(1248.40 1261.50) scale(1.05 1)" font-size="43.6" text-anchor="middle">2</text>
<text transform="translate(1545.40 1261.50) scale(1.05 1)" font-size="43.6" text-anchor="middle">4</text>
<text transform="translate(949.30 1319.30) scale(1.0 1)" font-size="43" text-anchor="middle">X</text>
<text transform="translate(60.9 649.2) rotate(-90)" text-anchor="middle" font-size="39.6" letter-spacing="1.7">確率密度</text>
<text y="66.5"><tspan x="884.2" font-size="51.5">T</tspan><tspan x="915.6" y="65.6" font-size="46.8">分</tspan><tspan x="965.6" y="65.2" font-size="47.6">布</tspan></text>
<path d="M1400.33,112.2 L1664.47,112.2 Q1672.8,112.2 1672.8,120.53 L1672.8,359.57 Q1672.8,367.9 1664.47,367.9 L1400.33,367.9 Q1392.0,367.9 1392.0,359.57 L1392.0,120.53 Q1392.0,112.2 1400.33,112.2 Z" fill="#fdfdf5" stroke="#d4d4d4" stroke-width="4.0"/>
<line x1="1404" y1="145.9" x2="1496.2" y2="145.9" stroke="#03a9f4" stroke-width="8.33"/>
<text x="1526.6" y="161.70"><tspan class="it" font-size="41.67" textLength="22.71" lengthAdjust="spacingAndGlyphs">k</tspan><tspan font-size="29.7" dx="1.1" dy="-3.4" textLength="27.75" lengthAdjust="spacingAndGlyphs">=</tspan><tspan font-size="43.6" dx="0.45" dy="3.2" textLength="25.75" lengthAdjust="spacingAndGlyphs">1</tspan></text>
<line x1="1404" y1="206.9" x2="1496.2" y2="206.9" stroke="#ff5252" stroke-width="8.33"/>
<text x="1526.6" y="222.70"><tspan class="it" font-size="41.67" textLength="22.71" lengthAdjust="spacingAndGlyphs">k</tspan><tspan font-size="29.7" dx="1.1" dy="-3.4" textLength="27.75" lengthAdjust="spacingAndGlyphs">=</tspan><tspan font-size="43.6" dx="0.45" dy="3.2" textLength="25.75" lengthAdjust="spacingAndGlyphs">2</tspan></text>
<line x1="1404" y1="268.0" x2="1496.2" y2="268.0" stroke="#b866c6" stroke-width="8.33"/>
<text x="1526.6" y="283.80"><tspan class="it" font-size="41.67" textLength="22.71" lengthAdjust="spacingAndGlyphs">k</tspan><tspan font-size="29.7" dx="1.1" dy="-3.4" textLength="27.75" lengthAdjust="spacingAndGlyphs">=</tspan><tspan font-size="43.6" dx="0.45" dy="3.2" textLength="25.75" lengthAdjust="spacingAndGlyphs">6</tspan></text>
<line x1="1404" y1="329.1" x2="1496.2" y2="329.1" stroke="#ff9100" stroke-width="8.33"/>
<text x="1526.6" y="344.90"><tspan class="it" font-size="41.67" textLength="22.71" lengthAdjust="spacingAndGlyphs">k</tspan><tspan font-size="29.7" dx="1.1" dy="-3.4" textLength="27.75" lengthAdjust="spacingAndGlyphs">=</tspan><tspan font-size="43.6" dx="0.45" dy="3.2" textLength="77.25" lengthAdjust="spacingAndGlyphs">100</tspan></text>
</svg></body></html>
